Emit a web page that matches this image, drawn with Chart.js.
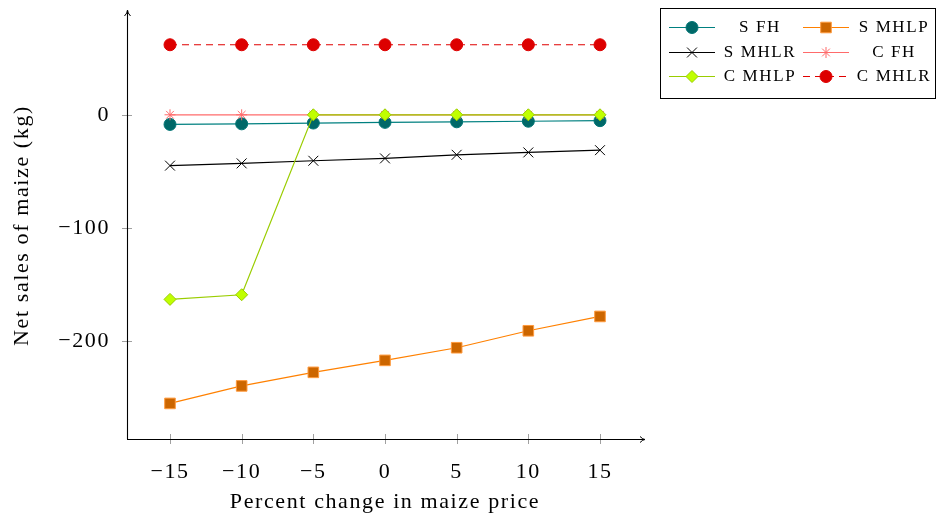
<!DOCTYPE html>
<html>
<head>
<meta charset="utf-8">
<script src="https://cdn.jsdelivr.net/npm/chart.js@4/dist/chart.umd.min.js"></script>
<style>
  html, body { margin: 0; padding: 0; background: #fff; }
  #wrap { width: 938px; height: 515px; position: relative; }
</style>
</head>
<body>
<div id="wrap"><canvas id="c" width="938" height="515"></canvas></div>
<script>
// ---- data ----
const priceChange = [-15, -10, -5, 0, 5, 10, 15];
const xTicks = [-15, -10, -5, 0, 5, 10, 15];
const yTicks = [-200, -100, 0];
const sFH   = [-8.5, -8, -7.3, -6.7, -6.2, -5.7, -5.2];
const sMHLP = [-255.5, -240, -228, -217.4, -206.2, -191.2, -178.5];
const sMHLR = [-45, -43, -40.7, -38.6, -35.4, -33.3, -31.3];
const cFH   = [0, 0, 0, 0, 0, 0, 0];
const cMHLP = [-163.4, -159.3, 0, 0, 0, 0, 0];
const cMHLR = [62, 62, 62, 62, 62, 62, 62];
const seriesNames = ['S FH', 'S MHLP', 'S MHLR', 'C FH', 'C MHLP', 'C MHLR'];

const FONT = "'Liberation Serif', 'Times New Roman', serif";
const SPACING = '1.6px';

function pts(arr) { return priceChange.map((x, i) => ({ x: x, y: arr[i] })); }
function fmt(v) { return v < 0 ? '\u2212' + Math.abs(v) : String(v); }

const styles = [
  { borderColor: '#008080', pointBackgroundColor: '#006868', pointBorderColor: '#007575', pointStyle: 'circle', pointRadius: 6, borderDash: [] },
  { borderColor: '#ff8000', pointBackgroundColor: '#cc6600', pointBorderColor: '#ff9a3c', pointStyle: 'rect', pointRadius: 7.5, borderDash: [] },
  { borderColor: '#000000', pointBackgroundColor: '#000000', pointBorderColor: '#000000', pointStyle: 'crossRot', pointRadius: 7, borderDash: [] },
  { borderColor: '#ff6b6b', pointBackgroundColor: '#ff6b6b', pointBorderColor: '#ff6b6b', pointStyle: 'star', pointRadius: 5.5, borderDash: [] },
  { borderColor: '#9acd00', pointBackgroundColor: '#c0ff00', pointBorderColor: '#99cc00', pointStyle: 'rectRot', pointRadius: 6, borderDash: [] },
  { borderColor: '#e00000', pointBackgroundColor: '#dd0000', pointBorderColor: '#dd0000', pointStyle: 'circle', pointRadius: 6, borderDash: [7, 5] }
];
const seriesData = [sFH, sMHLP, sMHLR, cFH, cMHLP, cMHLR];

const datasets = seriesData.map((d, i) => Object.assign({
  label: seriesNames[i],
  data: pts(d),
  borderWidth: 1.2,
  pointBorderWidth: 1,
  pointHoverRadius: 6,
  tension: 0,
  fill: false,
  order: 10 - i
}, styles[i]));

const spacingPlugin = {
  id: 'spacing',
  beforeUpdate(chart) { chart.ctx.letterSpacing = SPACING; },
  beforeLayout(chart) { chart.ctx.letterSpacing = SPACING; },
  beforeDraw(chart) { chart.ctx.letterSpacing = SPACING; }
};

const axesPlugin = {
  id: 'axesArrows',
  afterDatasetsDraw(chart) {
    const ctx = chart.ctx;
    const xs = chart.scales.x, ys = chart.scales.y;
    const left = xs.left, right = xs.right, top = ys.top, bottom = ys.bottom;
    ctx.save();
    ctx.strokeStyle = '#a0a0a0';
    ctx.lineWidth = 1;
    yTicks.forEach(v => {
      const y = Math.round(ys.getPixelForValue(v)) + 0.5;
      ctx.beginPath(); ctx.moveTo(left - 5, y); ctx.lineTo(left + 5, y); ctx.stroke();
    });
    xTicks.forEach(v => {
      const x = Math.round(xs.getPixelForValue(v)) + 0.5;
      ctx.beginPath(); ctx.moveTo(x, bottom - 5); ctx.lineTo(x, bottom + 5); ctx.stroke();
    });
    ctx.strokeStyle = '#000';
    ctx.lineWidth = 1.1;
    ctx.beginPath();
    ctx.moveTo(left + 0.5, bottom + 0.5); ctx.lineTo(left + 0.5, top - 1);
    ctx.moveTo(left, bottom + 0.5); ctx.lineTo(right + 1, bottom + 0.5);
    ctx.stroke();
    ctx.lineWidth = 1;
    ctx.beginPath();
    ctx.moveTo(left + 0.5 - 3, top + 4); ctx.quadraticCurveTo(left + 0.5, top + 1, left + 0.5, top - 2);
    ctx.quadraticCurveTo(left + 0.5, top + 1, left + 0.5 + 3, top + 4);
    ctx.moveTo(right - 3, bottom + 0.5 - 3); ctx.quadraticCurveTo(right, bottom + 0.5, right + 2, bottom + 0.5);
    ctx.quadraticCurveTo(right, bottom + 0.5, right - 3, bottom + 0.5 + 3);
    ctx.stroke();
    ctx.restore();
  },
  afterDraw(chart) {
    const ctx = chart.ctx;
    ctx.save();
    ctx.letterSpacing = SPACING;
    ctx.strokeStyle = '#000';
    ctx.lineWidth = 1;
    ctx.strokeRect(660.5, 8.5, 275, 90);
    const rows = [27, 52, 76];
    const cols = [{ lx: 669, mx: 692, tx: 759 }, { lx: 803, mx: 826, tx: 893 }];
    chart.data.datasets.forEach((ds, i) => {
      const r = rows[Math.floor(i / 2)], c = cols[i % 2];
      ctx.save();
      ctx.strokeStyle = ds.borderColor;
      ctx.lineWidth = 1.2;
      ctx.setLineDash(ds.borderDash || []);
      ctx.beginPath(); ctx.moveTo(c.lx, r + 0.5); ctx.lineTo(c.lx + 46, r + 0.5); ctx.stroke();
      ctx.setLineDash([]);
      ctx.fillStyle = ds.pointBackgroundColor;
      ctx.strokeStyle = ds.pointBorderColor;
      ctx.lineWidth = 1;
      Chart.helpers.drawPoint(ctx, { pointStyle: ds.pointStyle, radius: ds.pointRadius, rotation: 0, borderWidth: 1 }, c.mx, r + 0.5);
      ctx.restore();
      ctx.fillStyle = '#000';
      ctx.font = "17px " + FONT;
      ctx.textAlign = 'center';
      ctx.textBaseline = 'middle';
      ctx.fillText(ds.label, c.tx + 1, r + 1);
    });
    ctx.restore();
  }
};

new Chart(document.getElementById('c'), {
  type: 'line',
  data: { datasets: datasets },
  plugins: [spacingPlugin, axesPlugin],
  options: {
    responsive: false,
    animation: false,
    devicePixelRatio: 1,
    layout: { padding: { top: 0, right: 295, left: 0, bottom: 0 } },
    plugins: { legend: { display: false }, tooltip: { enabled: false } },
    scales: {
      x: {
        type: 'linear',
        min: -18, max: 18,
        afterBuildTicks: s => { s.ticks = xTicks.map(v => ({ value: v })); },
        afterFit: s => { s.height = 76; },
        grid: { display: false },
        border: { display: false },
        ticks: { color: '#000', font: { family: FONT, size: 22 }, padding: 12, maxRotation: 0, callback: v => fmt(v) },
        title: { display: true, text: 'Percent change in maize price', color: '#000', font: { family: FONT, size: 22 }, padding: { top: 0, bottom: 0 } }
      },
      y: {
        type: 'linear',
        min: -287, max: 91,
        afterBuildTicks: s => { s.ticks = yTicks.map(v => ({ value: v })); },
        afterFit: s => { s.width = 127; s.paddingTop = 12; s.paddingBottom = 0; },
        grid: { display: false },
        border: { display: false },
        ticks: { color: '#000', font: { family: FONT, size: 22 }, padding: 9, callback: v => fmt(v) },
        title: { display: true, text: 'Net sales of maize (kg)', color: '#000', font: { family: FONT, size: 22 }, padding: { top: 9, bottom: 0 } }
      }
    }
  }
});
</script>
</body>
</html>
